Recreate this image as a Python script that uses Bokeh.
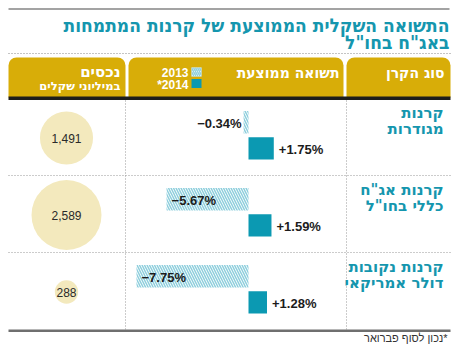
import math
from bokeh.plotting import figure
from bokeh.models import ColumnDataSource, Range1d, BoxAnnotation
from bokeh.transform import dodge
from bokeh.core.properties import value
from bokeh.embed import file_html
from bokeh.resources import INLINE

# ---------------- data ----------------
categories_l1 = ["קרנות", "קרנות אג\"ח", "קרנות נקובות"]
categories_l2 = ["מגודרות", "כללי בחו\"ל", "דולר אמריקאי"]
returns_2013 = [-0.34, -5.67, -7.75]
returns_2014 = [1.75, 1.59, 1.28]
assets = [1491, 2589, 288]
asset_labels = ["1,491", "2,589", "288"]

title_l1 = "התשואה השקלית הממוצעת של קרנות המתמחות"
title_l2 = "באג\"ח בחו\"ל"
head_fund = "סוג הקרן"
head_return = "תשואה ממוצעת"
head_assets = "נכסים"
head_assets_sub = "במיליוני שקלים"
legend_labels = ["2013", "*2014"]
footnote = "נכון לסוף פברואר*"

# ---------------- style ----------------
TEAL = "#0b99b2"
TITLE_TEAL = "#1596ae"
GOLD = "#d8ad08"
HATCH = "#8fcfdd"
CIRCLE = "#f3e9bd"
INK = "#1c1c1c"
FONT = value("Liberation Sans")
TFONT = value("DejaVu Sans Condensed")
HFONT = value("DejaVu Sans")

W, H = 458, 344
p = figure(width=W, height=H, x_range=Range1d(0, W), y_range=Range1d(H, 0),
           output_backend="svg", toolbar_location=None, min_border=0,
           x_axis_location=None, y_axis_location=None)
p.grid.visible = False
p.outline_line_color = None
p.background_fill_color = "white"

# percent scale for the bars: 0% sits at x=248, ~14.45 px per percent
PX_PER_PCT = 14.45
ZERO_X = 248
p.extra_x_ranges = {"pct": Range1d(-ZERO_X / PX_PER_PCT, (W - ZERO_X) / PX_PER_PCT)}
# row scale: row centres 77 px apart, first at y=137.5
ROW_H = 77.0
ROW0 = 137.5
p.extra_y_ranges = {"rows": Range1d((H - ROW0) / ROW_H, -ROW0 / ROW_H)}

rows = list(range(len(categories_l1)))

def box(**kw):
    p.add_layout(BoxAnnotation(fill_alpha=1, line_color=None, level="underlay", **kw))

# ---------------- frame decorations ----------------
box(left=8, right=449, top=7.5, bottom=9.5, fill_color="#a3a3a3")
p.segment(x0=[8], y0=[53], x1=[450], y1=[53], line_color="#888888", line_width=1.2,
          line_dash="1 2")
for l, r in [(8, 125), (128, 343), (346, 450)]:
    box(left=l, right=r, top=57, bottom=97, fill_color=GOLD,
        border_radius=dict(top_left=8, top_right=8, bottom_right=0, bottom_left=0))
box(left=8, right=450, top=96, bottom=99.5, fill_color="#1d1d1b")
p.segment(x0=[125, 346], y0=[100, 100], x1=[125, 346], y1=[330, 330],
          line_color="#999999", line_width=1, line_dash="1 2")
p.segment(x0=[8, 8], y0=[175, 252], x1=[450, 450], y1=[175, 252],
          line_color="#999999", line_width=1, line_dash="1 2")
box(left=8, right=450, top=329, bottom=331.5, fill_color="#6f6f6f")

# ---------------- title ----------------
p.text(x=[449, 449], y=[24, 41], text=[title_l1, title_l2], text_font=TFONT,
       text_font_style="bold", text_font_size="19px", text_color=TITLE_TEAL,
       text_align="right", text_baseline="middle")

# ---------------- header texts ----------------
p.text(x=[444, 339], y=[72, 72], text=[head_fund, head_return], text_font=HFONT,
       text_font_style="bold", text_font_size="14px", text_color="white",
       text_align="right", text_baseline="middle")
p.text(x=[120], y=[71], text=[head_assets], text_font=HFONT, text_font_style="bold",
       text_font_size="15px", text_color="white", text_align="right",
       text_baseline="middle")
p.text(x=[120], y=[85], text=[head_assets_sub], text_font=HFONT, text_font_style="bold",
       text_font_size="11.5px", text_color="white", text_align="right",
       text_baseline="middle")
# legend
p.rect(x=[196, 196], y=[71.5, 83], width=10, height=9, fill_color=["white", TEAL],
       line_color=None)
p.rect(x=[196], y=[71.5], width=10, height=9, fill_alpha=0, line_color=None,
       hatch_pattern="\\", hatch_color=HATCH, hatch_weight=1.5, hatch_scale=4)
p.text(x=[188, 188], y=[72, 84], text=legend_labels, text_font=FONT,
       text_font_style="bold", text_font_size="12px", text_color="white",
       text_align="right", text_baseline="middle")

# ---------------- rows ----------------
LABEL_X = 443
cat_src = ColumnDataSource(dict(row=rows, l1=categories_l1, l2=categories_l2))
p.text(x=LABEL_X, y=dodge("row", -0.33), text="l1", source=cat_src,
       y_range_name="rows", text_font=HFONT, text_font_style="bold",
       text_font_size="15px", text_color=TITLE_TEAL, text_align="right",
       text_baseline="middle")
p.text(x=LABEL_X, y=dodge("row", -0.12), text="l2", source=cat_src,
       y_range_name="rows", text_font=HFONT, text_font_style="bold",
       text_font_size="15px", text_color=TITLE_TEAL, text_align="right",
       text_baseline="middle")

# bars
src = ColumnDataSource(dict(
    row=rows, v13=returns_2013, v14=returns_2014, zero=[0] * 3,
    lab13=["\u2212%.2f%%" % abs(v) for v in returns_2013],
    lab14=["+%.2f%%" % v for v in returns_2014],
    al13=["left" if abs(v) > 3 else "right" for v in returns_2013],
    off13=[5 if abs(v) > 3 else -2 for v in returns_2013],
))
p.hbar(y=dodge("row", -0.205), left="v13", right="zero", height=0.29, source=src,
       x_range_name="pct", y_range_name="rows", fill_alpha=0, line_color=None,
       hatch_pattern="\\", hatch_color=HATCH, hatch_weight=1.5, hatch_scale=5)
p.hbar(y=dodge("row", 0.135), left="zero", right="v14", height=0.29, source=src,
       x_range_name="pct", y_range_name="rows", fill_color=TEAL, line_color=None)
p.text(x="v13", y=dodge("row", -0.19), text="lab13", source=src, x_range_name="pct",
       y_range_name="rows", text_align="al13", x_offset="off13", text_font=FONT,
       text_font_style="bold", text_font_size="13px", text_color=INK,
       text_baseline="middle")
p.text(x="v14", y=dodge("row", 0.15), text="lab14", source=src, x_range_name="pct",
       y_range_name="rows", text_align="left", x_offset=5, text_font=FONT,
       text_font_style="bold", text_font_size="13px", text_color=INK,
       text_baseline="middle")

# asset circles (area proportional to value)
K = 70 / math.sqrt(max(assets))
CIRCLE_X = 66
csrc = ColumnDataSource(dict(row=rows, a=assets, lab=asset_labels,
                             d=[K * math.sqrt(a) for a in assets]))
p.scatter(x=CIRCLE_X, y="row", size="d", source=csrc, y_range_name="rows",
          fill_color=CIRCLE, line_color=None)
p.text(x=CIRCLE_X, y="row", text="lab", source=csrc, y_range_name="rows",
       text_font=FONT, text_font_size="12px", text_color="#2a2a2a",
       text_align="center", text_baseline="middle")

# footnote
p.text(x=[447], y=[337], text=[footnote], text_font=FONT, text_font_size="11px",
       text_color="#333333", text_align="right", text_baseline="middle")

open("out.html", "w").write(file_html(p, INLINE))
